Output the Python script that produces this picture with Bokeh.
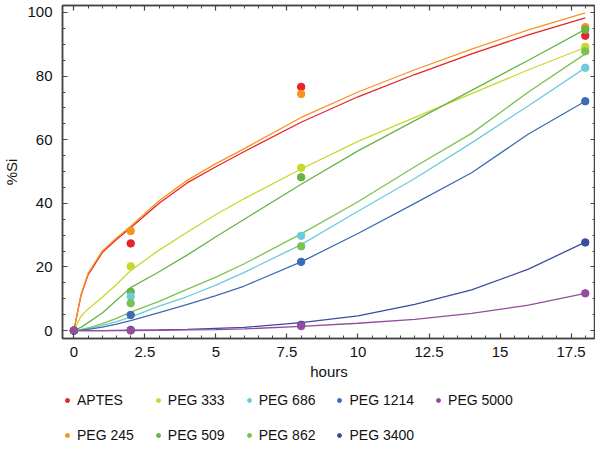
from bokeh.plotting import figure
from bokeh.layouts import column
from bokeh.models import (Legend, LegendItem, LinearAxis, FixedTicker, Range1d,
                          CustomLabelingPolicy)
from bokeh.embed import file_html
from bokeh.resources import INLINE

series_names = ["APTES", "PEG 245", "PEG 333", "PEG 509", "PEG 686",
                "PEG 862", "PEG 1214", "PEG 3400", "PEG 5000"]
series_colors = ["#e8232a", "#f7931e", "#c8d82e", "#66b446", "#6dcbdc",
                 "#7cc24e", "#3d6cb5", "#3a4ca0", "#944d9e"]

# measured points
point_hours = [0, 2, 8, 18]
aptes_pts = [0, 27.4, 76.6, 92.7]
peg245_pts = [0, 31.3, 74.4, 95.4]
peg333_pts = [0, 20.2, 51.2, 89.2]
peg509_pts = [0, 12.2, 48.2, 94.6]
peg686_pts = [0, 10.7, 29.8, 82.6]
peg862_pts = [0, 8.6, 26.5, 87.8]
peg1214_pts = [0, 4.9, 21.6, 72.1]
peg3400_pts = [0, 0.2, 1.8, 27.7]
peg5000_pts = [0, 0, 1.4, 11.7]

# fitted curves
fit_hours = [0, 0.25, 0.5, 1, 1.5, 2, 3, 4, 5, 6, 8, 10, 12, 14, 16, 18]
aptes_fit = [0, 11, 17.5, 24.5, 28.6, 32.3, 40, 46.5, 51.5, 56.3, 65.5, 73.5, 80.5, 87, 93, 98.3]
peg245_fit = [0, 11.3, 18, 25, 29.1, 32.8, 40.8, 47.3, 52.5, 57.2, 67, 75, 82, 88.5, 94.5, 99.9]
peg333_fit = [0, 4.5, 6.8, 10.5, 14.5, 18.9, 25.3, 31, 36.5, 41.5, 50.8, 59.5, 67, 74.5, 82, 89]
peg509_fit = [0, 1, 2.5, 5.5, 9.5, 13.5, 18.5, 23.8, 29.5, 35, 46, 56.5, 66, 75.5, 85, 94.7]
peg686_fit = [0, 0.2, 0.6, 1.6, 2.8, 4.2, 7.7, 10.7, 14.3, 18.3, 27, 37.5, 47.8, 59, 70.7, 82.6]
peg862_fit = [0, 0.3, 0.8, 2.2, 3.8, 5.8, 9.2, 13, 16.8, 21, 30.4, 40.5, 51.5, 62, 75, 87]
peg1214_fit = [0, 0.15, 0.4, 1.1, 2, 3.1, 5.6, 8.2, 11, 14, 21.6, 30.5, 40, 49.6, 61.8, 72.1]
peg3400_fit = [0, 0, 0, 0, 0.05, 0.1, 0.2, 0.4, 0.7, 1.0, 2.5, 4.6, 8.2, 12.8, 19.3, 27.8]
peg5000_fit = [0, 0, 0, 0, 0, 0, 0.1, 0.2, 0.3, 0.5, 1.3, 2.3, 3.5, 5.4, 8.0, 11.7]

x_tick_values = [0, 2.5, 5, 7.5, 10, 12.5, 15, 17.5]
x_tick_labels = ["0", "2.5", "5", "7.5", "10", "12.5", "15", "17.5"]
y_tick_values = [0, 20, 40, 60, 80, 100]
y_tick_labels = ["0", "20", "40", "60", "80", "100"]

all_pts = [aptes_pts, peg245_pts, peg333_pts, peg509_pts, peg686_pts,
           peg862_pts, peg1214_pts, peg3400_pts, peg5000_pts]
all_fits = [aptes_fit, peg245_fit, peg333_fit, peg509_fit, peg686_fit,
            peg862_fit, peg1214_fit, peg3400_fit, peg5000_fit]

FONT = "Liberation Sans"
AX = "#444444"
W = 595

p = figure(width=W, height=383, output_backend="svg", toolbar_location=None,
           x_range=Range1d(-0.40, 18.36), y_range=Range1d(-2.5, 102.2),
           min_border_left=52, min_border_right=0, min_border_top=5,
           min_border_bottom=45, x_axis_label="hours", y_axis_label="%Si")
p.grid.visible = False
p.outline_line_color = AX
p.outline_line_width = 1.5
p.background_fill_color = "white"
p.border_fill_color = "white"

x_minor = [i * 0.5 for i in range(0, 37)]
y_minor = [i * 5 for i in range(0, 21)]


def style_axis(ax, ticks, minor, labels, show_labels=True):
    ax.ticker = FixedTicker(ticks=ticks, minor_ticks=minor)
    ax.axis_line_color = AX
    ax.axis_line_width = 1.5
    ax.major_tick_line_color = AX
    ax.minor_tick_line_color = AX
    ax.major_tick_line_width = 1.2
    ax.minor_tick_line_width = 1
    ax.major_tick_in = 5
    ax.major_tick_out = 0
    ax.minor_tick_in = 3
    ax.minor_tick_out = 0
    if show_labels:
        ax.major_label_overrides = {t: l for t, l in zip(ticks, labels)}
        ax.major_label_text_font = FONT
        ax.major_label_text_font_size = "15px"
        ax.major_label_text_color = "#111111"
        ax.axis_label_text_font = FONT
        ax.axis_label_text_font_size = "15px"
        ax.axis_label_text_font_style = "normal"
        ax.axis_label_text_color = "#111111"
    else:
        # tick marks only: no labels on the mirrored axes
        ax.major_label_overrides = {t: "" for t in ticks}
        ax.major_label_policy = CustomLabelingPolicy(
            code="for (const i of Array.from(indices)) { indices.unset(i) }; return indices")
        ax.major_label_standoff = 0


style_axis(p.xaxis[0], x_tick_values, x_minor, x_tick_labels)
p.xaxis[0].major_label_standoff = 8
p.xaxis[0].axis_label_standoff = 3
style_axis(p.yaxis[0], y_tick_values, y_minor, y_tick_labels)
p.yaxis[0].major_label_standoff = 10
p.yaxis[0].axis_label_standoff = 4

top_ax = LinearAxis()
style_axis(top_ax, x_tick_values, x_minor, x_tick_labels, show_labels=False)
p.add_layout(top_ax, "above")
right_ax = LinearAxis()
style_axis(right_ax, y_tick_values, y_minor, y_tick_labels, show_labels=False)
p.add_layout(right_ax, "right")

for color, fit in zip(series_colors, all_fits):
    p.line(fit_hours, fit, line_color=color, line_width=1.3)
for color, pts in zip(series_colors, all_pts):
    p.scatter(point_hours, pts, marker="circle", size=7.5,
              fill_color=color, line_color=color)

# legend panel: second figure whose view range excludes the data, so only
# the legend is visible
leg = figure(width=W, height=60, output_backend="svg", toolbar_location=None,
             x_range=Range1d(-101, -100), y_range=Range1d(-101, -100),
             min_border_left=0, min_border_right=0, min_border_top=0,
             min_border_bottom=0, x_axis_location=None, y_axis_location=None)
leg.grid.visible = False
leg.outline_line_color = None
leg.background_fill_color = "white"
leg.border_fill_color = "white"

items = []
for name, color, pts in zip(series_names, series_colors, all_pts):
    r = leg.scatter(point_hours, pts, marker="circle", size=9,
                    fill_color=color, line_color=color)
    items.append(LegendItem(label=name, renderers=[r]))

legend = Legend(items=items, location=(0, 0), orientation="vertical",
                nrows=2, label_text_font=FONT, label_text_font_size="14px",
                label_text_color="#111111",
                glyph_width=10, glyph_height=12, label_height=12,
                label_standoff=5, spacing=19, padding=0, margin=0,
                border_line_alpha=0, background_fill_alpha=0)
leg.add_layout(legend, "center")

layout = column(p, leg, spacing=0)
open("out.html", "w").write(file_html(layout, INLINE))
